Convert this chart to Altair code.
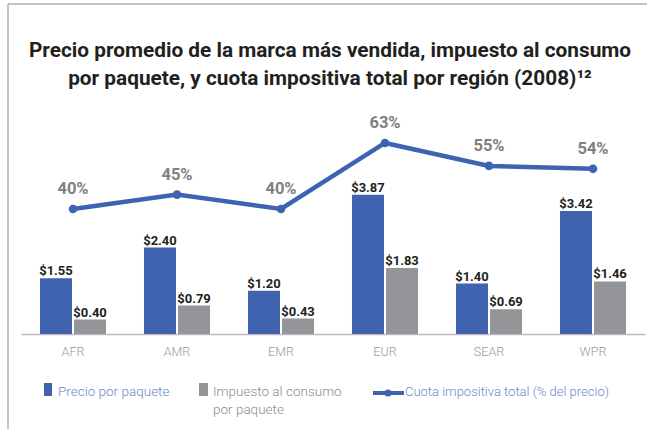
import altair as alt
import pandas as pd

# ---- data ----
regions = ["AFR", "AMR", "EMR", "EUR", "SEAR", "WPR"]
precio = [1.55, 2.40, 1.20, 3.87, 1.40, 3.42]
impuesto = [0.40, 0.79, 0.43, 1.83, 0.69, 1.46]
cuota = [40, 45, 40, 63, 55, 54]
series = ["Precio por paquete", "Impuesto al consumo por paquete"]
legend_labels = ["Precio por paquete", "Impuesto al consumo\npor paquete",
                 "Cuota impositiva total (% del precio)"]
title_text = ("Precio promedio de la marca más vendida, impuesto al consumo\n"
              "por paquete, y cuota impositiva total por región (2008)¹²")

FONT = "Roboto"
BLUE = "#3F63AE"
GRAY = "#939598"
LINE = "#3D64B1"
LEG_BLUE = "#6D89C9"
LEG_GRAY = "#8C8C8C"

bars_df = pd.DataFrame({
    "region": regions * 2,
    "serie": [series[0]] * len(regions) + [series[1]] * len(regions),
    "valor": precio + impuesto,
})
line_df = pd.DataFrame({"region": regions, "cuota": cuota})

W, H = 624, 216

x_enc = alt.X(
    "region:N", sort=regions,
    scale=alt.Scale(domain=regions, paddingInner=0.365, paddingOuter=0.1825),
    axis=alt.Axis(title=None, labelAngle=0, ticks=False, grid=False,
                  domainColor="#bbbbbb", domainWidth=1.5,
                  labelColor="#999999", labelFont=FONT, labelFontSize=12.5,
                  labelFontWeight=300, labelPadding=11),
)
xoff = alt.XOffset("serie:N", sort=series,
                   scale=alt.Scale(domain=series, paddingInner=0.06))
ybar = alt.Y("valor:Q", scale=alt.Scale(domain=[0, 6], nice=False), axis=None)
ypct = alt.Y("cuota:Q", scale=alt.Scale(domain=[-3.55, 71.7], nice=False, zero=False),
             axis=None)
color = alt.Color("serie:N", scale=alt.Scale(domain=series, range=[BLUE, GRAY]),
                  legend=None)

bars = alt.Chart(bars_df).mark_bar().encode(x=x_enc, xOffset=xoff, y=ybar, color=color)
bar_labels = alt.Chart(bars_df).mark_text(
    font=FONT, fontWeight="bold", fontSize=13, color="#231f20",
    baseline="alphabetic", dy=-3,
).encode(x=x_enc, xOffset=xoff, y=ybar, text=alt.Text("valor:Q", format="$.2f"))

line = alt.Chart(line_df).mark_line(color=LINE, strokeWidth=4.5).encode(x=x_enc, y=ypct)
pts = alt.Chart(line_df).mark_circle(color=LINE, size=75, opacity=1).encode(x=x_enc, y=ypct)
pct_labels = alt.Chart(line_df).transform_calculate(
    lbl="datum.cuota + '%'"
).mark_text(
    font=FONT, fontWeight="bold", fontSize=16.5, color="#808080",
    baseline="alphabetic", dy=-15,
).encode(x=x_enc, y=ypct, text="lbl:N")

# ---- title as text ----
title = alt.Chart(pd.DataFrame({"t": [title_text]})).mark_text(
    align="center", baseline="alphabetic", font=FONT, fontWeight="bold",
    fontSize=20.8, color="#231f20", lineBreak="\n", lineHeight=28,
).encode(x=alt.value(309), y=alt.value(-61), text="t:N")

# ---- manual legend ----
one = pd.DataFrame({"k": [0]})
leg1_sq = alt.Chart(one).mark_rect(color=BLUE).encode(
    x=alt.value(23), x2=alt.value(31), y=alt.value(265), y2=alt.value(278))
leg1_tx = alt.Chart(pd.DataFrame({"t": [legend_labels[0]]})).mark_text(
    align="left", baseline="alphabetic", font=FONT, fontWeight=300, fontSize=13.5,
    color=LEG_BLUE
).encode(x=alt.value(37), y=alt.value(278), text="t:N")
leg2_sq = alt.Chart(one).mark_rect(color=GRAY).encode(
    x=alt.value(178), x2=alt.value(187), y=alt.value(265), y2=alt.value(278))
leg2_tx = alt.Chart(pd.DataFrame({"t": [legend_labels[1]]})).mark_text(
    align="left", baseline="alphabetic", font=FONT, fontWeight=300, fontSize=13.5,
    color=LEG_GRAY, lineBreak="\n", lineHeight=18,
).encode(x=alt.value(192), y=alt.value(278), text="t:N")
leg3_ln = alt.Chart(one).mark_rule(color=LINE, strokeWidth=4).encode(
    x=alt.value(352), x2=alt.value(383), y=alt.value(275))
leg3_pt = alt.Chart(one).mark_circle(color=LINE, size=50, opacity=1).encode(
    x=alt.value(367), y=alt.value(275))
leg3_tx = alt.Chart(pd.DataFrame({"t": [legend_labels[2]]})).mark_text(
    align="left", baseline="alphabetic", font=FONT, fontWeight=300, fontSize=13,
    color=LEG_BLUE
).encode(x=alt.value(384), y=alt.value(278), text="t:N")

# ---- frame ----
frame_top = alt.Chart(one).mark_rule(color="#b0b0b0", strokeWidth=1.5).encode(
    x=alt.value(-13), x2=alt.value(630), y=alt.value(-114))
frame_left = alt.Chart(one).mark_rule(color="#b0b0b0", strokeWidth=1.5).encode(
    x=alt.value(-13), y=alt.value(-114), y2=alt.value(315))

chart = alt.layer(
    frame_top, frame_left, title,
    bars, bar_labels, line, pts, pct_labels,
    leg1_sq, leg1_tx, leg2_sq, leg2_tx, leg3_ln, leg3_pt, leg3_tx,
).resolve_scale(y="independent").properties(
    width=W, height=H,
    autosize=alt.AutoSizeParams(type="none"),
    padding={"left": 21, "top": 118, "right": 2, "bottom": 95},
).configure(background="white").configure_view(stroke=None)

chart.save("out.html", embed_options={"renderer": "svg", "actions": False})
